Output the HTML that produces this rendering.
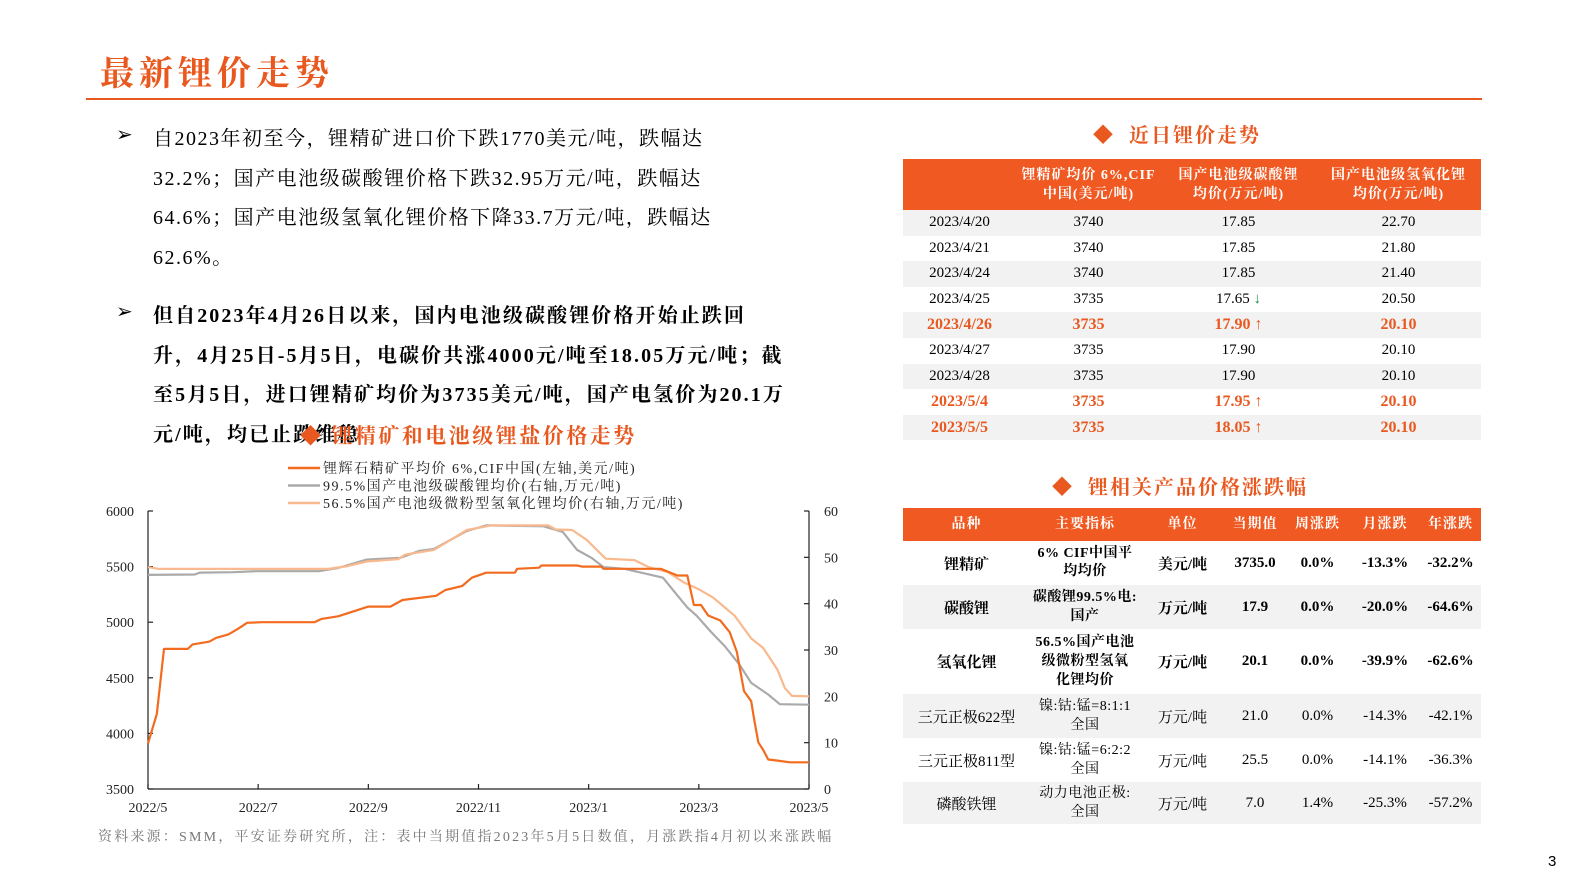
<!DOCTYPE html>
<html><head><meta charset="utf-8">
<style>
body{margin:0;width:1587px;height:892px;background:#fff;position:relative;overflow:hidden;font-family:"Liberation Serif","Noto Serif CJK SC",serif;color:#000}
.abs{position:absolute;white-space:nowrap}
.or{color:#E8581F}
table{border-collapse:collapse;position:absolute;font-family:"Liberation Serif","Noto Serif CJK SC",serif;table-layout:fixed}
td{text-align:center;padding:0;font-size:15px;white-space:nowrap}
th{background:#F05A22;color:#fff;font-size:14px;font-weight:bold;padding:0;line-height:19px;letter-spacing:1px;white-space:nowrap}
.g{background:#F2F2F2}
.hi td{color:#E8581F;font-weight:bold;font-size:16px}
.b td{font-weight:bold;font-size:15px}
td.ind{font-size:14px;letter-spacing:0.5px}
</style></head><body>
<div class="abs or" style="left:100px;top:46px;font-size:34px;font-weight:bold;letter-spacing:5px">最新锂价走势</div>
<div class="abs" style="left:86px;top:98px;width:1396px;height:2px;background:#E8581F"></div>

<div>
<div class="abs" style="left:116px;top:122px;font-size:20px">➢</div>
<div class="abs" style="left:153px;top:120px;font-size:20px;line-height:39.5px;letter-spacing:1.5px">自2023年初至今，锂精矿进口价下跌1770美元/吨，跌幅达<br>32.2%；国产电池级碳酸锂价格下跌32.95万元/吨，跌幅达<br>64.6%；国产电池级氢氧化锂价格下降33.7万元/吨，跌幅达<br>62.6%。</div>
</div>
<div>
<div class="abs" style="left:116px;top:299px;font-size:20px">➢</div>
<div class="abs" style="left:153px;top:297px;font-size:20px;line-height:39.5px;font-weight:bold;letter-spacing:2.1px">但自2023年4月26日以来，国内电池级碳酸锂价格开始止跌回<br>升，4月25日-5月5日，电碳价共涨4000元/吨至18.05万元/吨；截<br>至5月5日，进口锂精矿均价为3735美元/吨，国产电氢价为20.1万<br>元/吨，均已止跌维稳</div>
</div>
<div class="abs or" style="left:300px;top:420px;font-size:21px;font-weight:bold;letter-spacing:2.5px">◆ 锂精矿和电池级锂盐价格走势</div>

<svg class="abs" style="left:0;top:0" width="900" height="892" id="chart"></svg>

<div class="abs" style="left:98px;top:826px;font-size:14px;color:#777;letter-spacing:2.2px">资料来源：SMM，平安证券研究所，注：表中当期值指2023年5月5日数值，月涨跌指4月初以来涨跌幅</div>

<div class="abs or" style="left:1093px;top:119px;font-size:20px;font-weight:bold;letter-spacing:2px">◆&nbsp;&nbsp;近日锂价走势</div>
<table style="left:903px;top:159px;width:578px">
<tr style="height:51px"><th style="width:113px"></th><th style="width:145px">锂精矿均价 6%,CIF<br>中国(美元/吨)</th><th style="width:155px">国产电池级碳酸锂<br>均价(万元/吨)</th><th>国产电池级氢氧化锂<br>均价(万元/吨)</th></tr>
<tr class="g" style="height:25.6px"><td>2023/4/20</td><td>3740</td><td>17.85</td><td>22.70</td></tr>
<tr style="height:25.6px"><td>2023/4/21</td><td>3740</td><td>17.85</td><td>21.80</td></tr>
<tr class="g" style="height:25.6px"><td>2023/4/24</td><td>3740</td><td>17.85</td><td>21.40</td></tr>
<tr style="height:25.6px"><td>2023/4/25</td><td>3735</td><td>17.65<span style="color:#1a8a3a;font-weight:bold"> ↓</span></td><td>20.50</td></tr>
<tr class="g hi" style="height:25.6px"><td>2023/4/26</td><td>3735</td><td>17.90<span> ↑</span></td><td>20.10</td></tr>
<tr style="height:25.6px"><td>2023/4/27</td><td>3735</td><td>17.90</td><td>20.10</td></tr>
<tr class="g" style="height:25.6px"><td>2023/4/28</td><td>3735</td><td>17.90</td><td>20.10</td></tr>
<tr class="hi" style="height:25.6px"><td>2023/5/4</td><td>3735</td><td>17.95<span> ↑</span></td><td>20.10</td></tr>
<tr class="g hi" style="height:25.6px"><td>2023/5/5</td><td>3735</td><td>18.05<span> ↑</span></td><td>20.10</td></tr>
</table>

<div class="abs or" style="left:1052px;top:471px;font-size:20px;font-weight:bold;letter-spacing:2px">◆&nbsp;&nbsp;锂相关产品价格涨跌幅</div>
<table style="left:903px;top:508px;width:578px">
<colgroup><col style="width:127px"><col style="width:110px"><col style="width:85px"><col style="width:60px"><col style="width:65px"><col style="width:70px"><col style="width:61px"></colgroup>
<tr style="height:33px"><th>品种</th><th>主要指标</th><th>单位</th><th>当期值</th><th>周涨跌</th><th>月涨跌</th><th>年涨跌</th></tr>
<tr class="b" style="height:44px"><td>锂精矿</td><td class="ind" style="line-height:18px">6% CIF中国平<br>均均价</td><td>美元/吨</td><td>3735.0</td><td>0.0%</td><td>-13.3%</td><td>-32.2%</td></tr>
<tr class="b g" style="height:44px"><td>碳酸锂</td><td class="ind" style="line-height:19px">碳酸锂99.5%电:<br>国产</td><td>万元/吨</td><td>17.9</td><td>0.0%</td><td>-20.0%</td><td>-64.6%</td></tr>
<tr class="b" style="height:65px"><td>氢氧化锂</td><td class="ind" style="line-height:19px">56.5%国产电池<br>级微粉型氢氧<br>化锂均价</td><td>万元/吨</td><td>20.1</td><td>0.0%</td><td>-39.9%</td><td>-62.6%</td></tr>
<tr class="g" style="height:44px"><td>三元正极622型</td><td class="ind" style="line-height:19px">镍:钴:锰=8:1:1<br>全国</td><td>万元/吨</td><td>21.0</td><td>0.0%</td><td>-14.3%</td><td>-42.1%</td></tr>
<tr style="height:44px"><td>三元正极811型</td><td class="ind" style="line-height:19px">镍:钴:锰=6:2:2<br>全国</td><td>万元/吨</td><td>25.5</td><td>0.0%</td><td>-14.1%</td><td>-36.3%</td></tr>
<tr class="g" style="height:42px"><td>磷酸铁锂</td><td class="ind" style="line-height:19px">动力电池正极:<br>全国</td><td>万元/吨</td><td>7.0</td><td>1.4%</td><td>-25.3%</td><td>-57.2%</td></tr>
</table>
<div class="abs" style="left:1548px;top:853px;font-size:15px;font-family:'Liberation Sans',sans-serif">3</div>

<script>
// months since 2022/5
const xTickLabels=["2022/5","2022/7","2022/9","2022/11","2023/1","2023/3","2023/5"];
const xTickMonths=[0,2,4,6,8,10,12];
const leftTicks=[3500,4000,4500,5000,5500,6000];
const rightTicks=[0,10,20,30,40,50,60];
const oreT=[0,0.16,0.29,0.72,0.81,1.11,1.24,1.46,1.63,1.8,2.06,3.02,3.15,3.45,3.67,4.0,4.4,4.62,5.23,5.4,5.7,5.88,6.14,6.66,6.7,7.1,7.14,7.79,7.88,8.23,8.27,9.31,9.61,9.79,9.91,10.04,10.17,10.39,10.56,10.69,10.82,10.95,11.0,11.08,11.17,11.26,11.43,11.65,12];
const oreV=[3908,4174,4760,4760,4800,4825,4860,4890,4940,4995,5000,5000,5030,5053,5088,5140,5140,5200,5237,5290,5325,5400,5445,5445,5480,5490,5510,5510,5500,5500,5480,5480,5420,5420,5155,5155,5060,5015,4910,4735,4380,4290,4140,3920,3850,3765,3755,3740,3740];
const carbT=[0,0.85,0.94,1.54,1.98,3.1,3.45,3.97,4.58,4.93,5.19,5.79,6.14,7.18,7.53,7.79,8.05,8.27,8.66,8.92,9.35,9.52,9.79,9.96,10.22,10.48,10.74,10.95,11.26,11.47,12];
const carbV=[46.2,46.3,46.7,46.8,47.0,47.0,47.7,49.5,49.9,51.4,51.8,55.7,56.9,56.7,55.5,51.6,49.9,47.9,47.5,46.8,45.6,43.1,39.2,37.4,33.9,30.7,26.8,22.9,20.4,18.3,18.2];
const hydT=[0,0.2,3.28,3.62,3.97,4.54,4.67,5.19,5.79,6.23,7.27,7.4,7.7,7.96,8.31,8.83,9.09,9.44,9.74,10.0,10.26,10.65,10.95,11.17,11.43,11.56,11.69,12];
const hydV=[47.9,47.5,47.5,48.1,49.1,49.6,50.6,51.6,55.9,56.9,56.9,56.0,55.9,53.8,49.7,49.4,47.9,46.8,44.5,43.1,41.3,37.4,32.5,30.4,25.7,21.8,20.1,20.0];

const L=148,R=809,T=511,B=789;
const xs=m=>L+(R-L)*m/12;
const yl=v=>B-(B-T)*(v-3500)/2500;
const yr=v=>B-(B-T)*v/60;
const svg=document.getElementById('chart');
const NS='http://www.w3.org/2000/svg';
function mk(tag,attrs,parent){const e=document.createElementNS(NS,tag);for(const k in attrs)e.setAttribute(k,attrs[k]);(parent||svg).appendChild(e);return e;}

const legNames=["锂辉石精矿平均价 6%,CIF中国(左轴,美元/吨)","99.5%国产电池级碳酸锂均价(右轴,万元/吨)","56.5%国产电池级微粉型氢氧化锂均价(右轴,万元/吨)"];
const legColors=["#F26B1F","#AAAAAA","#F9B98F"];
legNames.forEach((n,i)=>{
  const g=mk('g',{});
  
  
  const y=468+i*17.5;
  mk('line',{x1:288,x2:320,y1:y,y2:y,stroke:legColors[i],'stroke-width':2.5},g);
  const t=mk('text',{x:323,y:y+5,'font-size':14,fill:'#222','letter-spacing':1.5},g);t.textContent=n;
});

const ax=mk('g',{stroke:'#222','stroke-width':1.2});


mk('line',{x1:L,x2:L,y1:T,y2:B},ax);
mk('line',{x1:R,x2:R,y1:T,y2:B},ax);
mk('line',{x1:L,x2:R,y1:B,y2:B},ax);
leftTicks.forEach(v=>{
  mk('line',{x1:L,x2:L+5,y1:yl(v),y2:yl(v)},ax);
  const t=mk('text',{x:L-14,y:yl(v)+5,'font-size':14,'text-anchor':'end',fill:'#222',stroke:'none'});
  
  
  t.textContent=v;
});
rightTicks.forEach(v=>{
  mk('line',{x1:R,x2:R-5,y1:yr(v),y2:yr(v)},ax);
  const t=mk('text',{x:R+15,y:yr(v)+5,'font-size':14,fill:'#222',stroke:'none'});
  
  
  t.textContent=v;
});
xTickMonths.forEach((m,i)=>{
  mk('line',{x1:xs(m),x2:xs(m),y1:B,y2:B-5},ax);
  const t=mk('text',{x:xs(m),y:B+23,'font-size':14,'text-anchor':'middle',fill:'#222',stroke:'none'});
  
  
  t.textContent=xTickLabels[i];
});

function series(ts,vs,yf,color,name){
  const d=ts.map((m,i)=>(i?'L':'M')+xs(m).toFixed(1)+' '+yf(vs[i]).toFixed(1)).join(' ');
  const p=mk('path',{d:d,fill:'none',stroke:color,'stroke-width':2.2,'stroke-linejoin':'round'});
  
  
}
series(carbT,carbV,yr,'#AAAAAA','carbonate-line');
series(hydT,hydV,yr,'#F9B98F','hydroxide-line');
series(oreT,oreV,yl,'#F26B1F','spodumene-line');
</script>
</body></html>
